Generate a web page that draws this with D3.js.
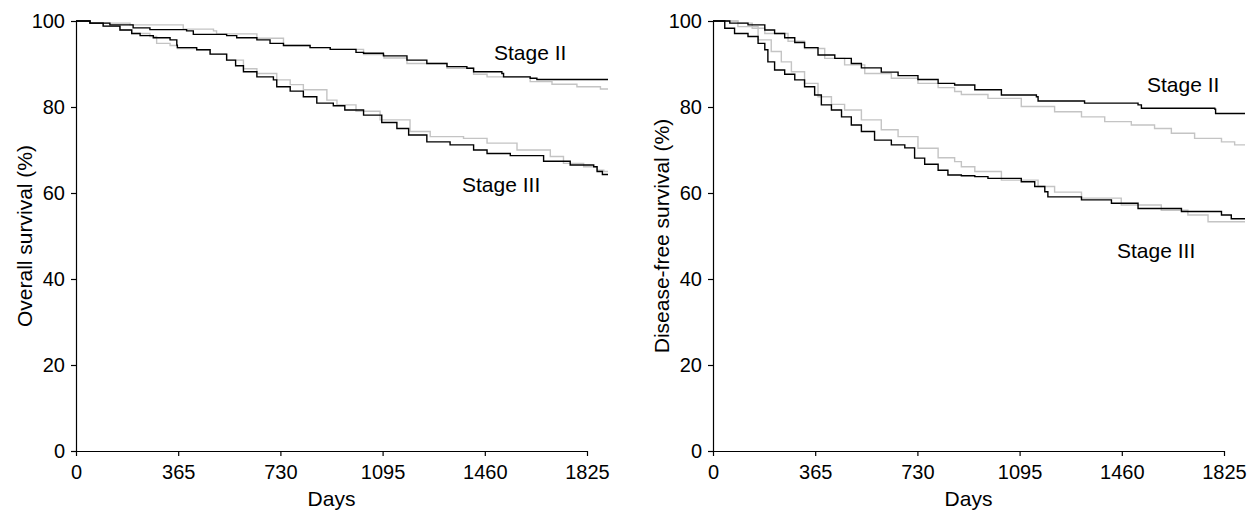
<!DOCTYPE html>
<html lang="en">
<head>
    <meta charset="UTF-8">
    <title>Survival curves</title>
    <script src="https://d3js.org/d3.v7.min.js"></script>
    <style>
        body { margin: 0; background: #fff; }
        svg { font-family: "Liberation Sans", Arial, Helvetica, sans-serif; }
        .axis path, .axis line { stroke: #000; stroke-width: 1.2; }
        .axis text { font-size: 20px; fill: #000; }
        .label { font-size: 21px; fill: #000; }
        .curve { fill: none; stroke-width: 1.4; }
    </style>
</head>
<body>
    <svg width="1255" height="514"></svg>

    <script>
        // tick labels
        const dayTicks = [0, 365, 730, 1095, 1460, 1825];
        const pctTicks = [0, 20, 40, 60, 80, 100];

        // overall survival, [day, %]
        const osStage2Black = [[0,100],[50,99.5],[121,99.1],[204,98.4],[264,98.0],[395,97.7],[419,96.9],[538,96.6],
            [574,96.1],[646,95.6],[693,94.8],[741,94.3],[836,93.8],[908,93.4],[1000,92.7],[1027,92.5],[1098,91.9],
            [1182,90.9],[1253,90.1],[1325,89.4],[1396,89.0],[1420,88.2],[1521,87.8],[1527,87.0],[1622,86.7],
            [1646,86.4],[1900,86.4]];
        const osStage2Gray = [[0,100],[50,99.5],[193,99.1],[383,98.1],[491,97.7],[502,97.0],[646,96.0],[741,94.3],
            [836,93.8],[908,93.4],[1027,92.2],[1100,91.4],[1182,90.1],[1325,89.0],[1420,87.6],[1468,87.0],
            [1622,85.9],[1700,85.3],[1789,84.7],[1873,84.2],[1900,84.2]];
        const osStage3Black = [[0,100],[50,99.5],[97,98.8],[157,97.9],[199,97.1],[229,96.6],[276,96.1],[336,95.6],
            [360,94.4],[362,93.8],[431,93.3],[479,92.3],[538,90.9],[570,89.6],[598,88.2],[646,87.0],[705,86.3],
            [717,84.7],[765,83.7],[812,82.4],[860,80.9],[919,80.3],[960,79.3],[1027,78.1],[1092,76.4],[1146,75.0],
            [1188,73.5],[1253,71.9],[1336,71.2],[1420,70.0],[1468,69.2],[1551,68.7],[1670,67.4],[1765,66.5],
            [1849,66.1],[1861,65.0],[1880,64.3],[1900,64.3]];
        const osStage3Gray = [[0,100],[50,99.5],[97,98.8],[157,97.9],[199,97.1],[264,96.4],[288,94.8],[336,94.3],
            [362,93.6],[431,93.3],[479,92.3],[538,90.9],[598,88.9],[646,87.8],[717,86.3],[765,85.2],[812,84.0],
            [896,81.6],[932,80.5],[1000,79.0],[1086,77.0],[1193,74.3],[1265,73.1],[1384,72.7],[1468,71.6],
            [1575,70.0],[1694,68.5],[1741,66.9],[1813,66.1],[1861,65.3],[1885,65.0],[1900,65.0]];

        // disease-free survival, [day, %]
        const dfsStage2Black = [[0,100],[60,99.5],[125,99.1],[185,97.9],[220,97.1],[256,96.1],[292,95.0],[327,93.8],
            [375,92.1],[435,91.3],[494,90.1],[530,89.1],[601,88.1],[661,87.3],[732,86.4],[804,85.5],[863,85.1],
            [935,84.0],[1030,82.8],[1155,82.4],[1161,81.4],[1327,80.9],[1518,80.5],[1530,79.7],[1792,79.5],
            [1795,78.5],[1900,78.5]];
        const dfsStage2Gray = [[0,100],[89,99.5],[140,98.3],[185,97.1],[268,95.3],[327,93.6],[399,91.3],[470,89.8],
            [542,87.8],[637,86.7],[732,85.5],[804,84.5],[863,83.6],[887,82.9],[982,82.0],[1101,80.1],[1220,78.9],
            [1316,77.7],[1399,76.6],[1494,75.8],[1577,75.0],[1637,73.9],[1720,72.7],[1816,71.9],[1863,71.2],
            [1900,71.2]];
        const dfsStage3Black = [[0,100],[42,98.3],[77,97.1],[125,96.4],[161,94.8],[185,93.3],[196,90.5],[220,88.6],
            [256,87.6],[292,86.3],[327,84.7],[363,82.8],[387,80.5],[423,79.3],[459,77.7],[494,75.8],[530,74.3],
            [577,72.3],[637,71.2],[685,70.5],[720,68.1],[756,66.7],[804,65.3],[839,64.2],[887,64.0],[935,63.8],
            [982,63.4],[1101,62.6],[1149,61.5],[1185,60.3],[1196,59.1],[1316,58.4],[1423,57.6],[1518,56.4],
            [1673,55.7],[1816,54.9],[1851,54.0],[1900,54.0]];
        const dfsStage3Gray = [[0,100],[89,98.7],[161,95.6],[208,92.9],[244,90.5],[280,88.2],[327,85.5],[375,82.4],
            [423,80.6],[470,79.3],[530,77.0],[601,74.7],[661,73.1],[732,70.4],[804,68.2],[863,67.3],[887,66.1],
            [935,65.0],[1030,63.0],[1161,61.5],[1220,60.2],[1316,58.8],[1458,57.2],[1601,56.0],[1696,54.9],
            [1768,53.3],[1900,53.3]];

        const svg = d3.select("svg");

        const panels = [
            { left: 76, yTitle: "Overall survival (%)", black: [osStage2Black, osStage3Black], gray: [osStage2Gray, osStage3Gray],
              notes: [{ text: "Stage II", x: 494, y: 60 }, { text: "Stage III", x: 462, y: 192 }] },
            { left: 713, yTitle: "Disease-free survival (%)", black: [dfsStage2Black, dfsStage3Black], gray: [dfsStage2Gray, dfsStage3Gray],
              notes: [{ text: "Stage II", x: 1147, y: 92 }, { text: "Stage III", x: 1117, y: 258 }] }
        ];

        const plotW = 511, plotTop = 21, plotBottom = 451;

        panels.forEach(p => {
            const x = d3.scaleLinear().domain([0, 1825]).range([p.left, p.left + plotW]);
            const y = d3.scaleLinear().domain([0, 100]).range([plotBottom, plotTop]);

            const line = d3.line()
                .x(d => x(d[0]))
                .y(d => y(d[1]))
                .curve(d3.curveStepAfter);

            p.gray.forEach(s => svg.append("path").attr("class", "curve")
                .attr("stroke", "#c4c4c4").attr("d", line(s)));
            p.black.forEach(s => svg.append("path").attr("class", "curve")
                .attr("stroke", "#000").attr("d", line(s)));

            svg.append("g")
                .attr("class", "axis")
                .attr("transform", `translate(0,${plotBottom})`)
                .call(d3.axisBottom(x).tickValues(dayTicks).tickFormat(d3.format("d"))
                    .tickSize(5).tickPadding(9).tickSizeOuter(0));

            svg.append("g")
                .attr("class", "axis")
                .attr("transform", `translate(${p.left},0)`)
                .call(d3.axisLeft(y).tickValues(pctTicks).tickFormat(d3.format("d"))
                    .tickSize(5).tickPadding(6).tickSizeOuter(0));

            svg.append("text")
                .attr("class", "label")
                .attr("x", p.left + plotW / 2)
                .attr("y", 506)
                .attr("text-anchor", "middle")
                .text("Days");

            svg.append("text")
                .attr("class", "label")
                .attr("transform", `translate(${p.left - 44},${(plotTop + plotBottom) / 2}) rotate(-90)`)
                .attr("text-anchor", "middle")
                .text(p.yTitle);

            p.notes.forEach(n => svg.append("text")
                .attr("class", "label")
                .attr("x", n.x).attr("y", n.y)
                .text(n.text));
        });
    </script>
</body>
</html>
